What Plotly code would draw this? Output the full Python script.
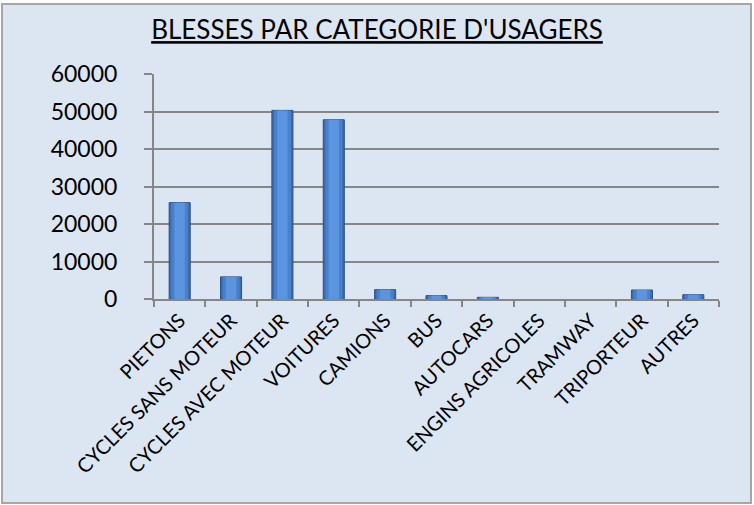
import plotly.graph_objects as go

categories = ["PIETONS", "CYCLES SANS MOTEUR", "CYCLES AVEC MOTEUR", "VOITURES",
              "CAMIONS", "BUS", "AUTOCARS", "ENGINS AGRICOLES", "TRAMWAY",
              "TRIPORTEUR", "AUTRES"]
blesses = [25700, 5900, 50300, 47800, 2500, 900, 450, 0, 0, 2400, 1150]
y_ticks = [0, 10000, 20000, 30000, 40000, 50000, 60000]

W, H = 754, 505
L, R, T, B = 154, 35, 74, 206
pw, ph = W - L - R, H - T - B

def px(x):
    return (x - L) / pw

def py(y):
    return 1 - (y - T) / ph

FONT = "Lato"

outline_w = [1 if v > 0 else 0 for v in blesses]

fig = go.Figure()
# layered bars to mimic the bevelled / gradient look
for w, col, line in [(0.41, "#3a6aaf", dict(color="#2b5288", width=outline_w)),
                     (0.33, "#4a80cb", dict(width=0)),
                     (0.20, "#5b95e0", dict(width=0))]:
    fig.add_trace(go.Bar(x=categories, y=blesses, width=w,
                         marker=dict(color=col, line=line), hoverinfo="x+y"))

fig.update_layout(
    width=W, height=H,
    barmode="overlay",
    margin=dict(l=L, r=R, t=T, b=B),
    paper_bgcolor="white",
    plot_bgcolor="rgba(0,0,0,0)",
    showlegend=False,
    title=dict(text="<u>BLESSES PAR CATEGORIE D'USAGERS</u>", x=0.5, xref="container",
               xanchor="center", y=1 - 30 / H, yref="container", yanchor="middle",
               font=dict(family=FONT, size=26, color="black")),
    shapes=[dict(type="rect", xref="paper", yref="paper", layer="below",
                 x0=px(2), x1=px(751), y0=py(503), y1=py(4),
                 fillcolor="#dce6f2", line=dict(color="#a6a6a6", width=2))],
    xaxis=dict(type="category", tickson="boundaries", ticks="outside", ticklen=6,
               tickcolor="#868686", tickwidth=2, showline=True, linecolor="#868686",
               linewidth=2, showgrid=False, tickangle=-45,
               tickfont=dict(family=FONT, size=20, color="black")),
    yaxis=dict(range=[0, 60000], tickvals=y_ticks, tickformat="d", ticks="outside",
               ticklen=8, tickcolor="#868686", tickwidth=2, showline=True,
               linecolor="#868686", linewidth=2, gridcolor="#868686", gridwidth=2,
               zeroline=False, ticklabelstandoff=22,
               tickfont=dict(family=FONT, size=23, color="black")),
)

fig.write_html("out.html", config={"displayModeBar": False},
               post_script="document.body.style.margin='0';document.body.style.overflow='hidden';")
